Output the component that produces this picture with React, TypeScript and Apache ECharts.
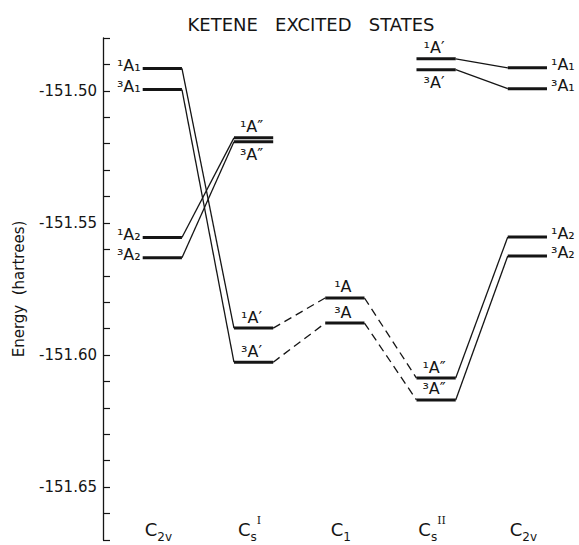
import React, { useEffect, useRef } from 'react';
import * as echarts from 'echarts';

// Column (point group) labels along the bottom, as rich text
const columnLabels = [
  '{c|C}{sub|2v}',
  '{c|C}{subz|s}{sup|I}',
  '{c|C}{sub|1}',
  '{c|C}{subz|s}{sup|II}',
  '{c|C}{sub|2v}',
];
const columnValues = [0, 1, 2, 3, 4];

// Energy levels
const levelColumn = [0, 0, 0, 0, 1, 1, 1, 1, 2, 2, 3, 3, 3, 3, 4, 4, 4, 4];
const levelEnergy = [
  -151.4915, -151.4995, -151.5555, -151.5632,
  -151.5178, -151.5193, -151.5898, -151.6027,
  -151.5784, -151.5879,
  -151.4879, -151.4920, -151.6087, -151.6170,
  -151.4913, -151.4992, -151.5553, -151.5625,
];
const levelLabel = [
  '¹A₁', '³A₁', '¹A₂', '³A₂',
  '¹A″', '³A″', '¹A′', '³A′',
  '¹A', '³A',
  '¹A′', '³A′', '¹A″', '³A″',
  '¹A₁', '³A₁', '¹A₂', '³A₂',
];
const levelLabelSide = [
  'left', 'left', 'left', 'left',
  'above', 'below', 'above', 'above',
  'above', 'above',
  'above', 'below', 'above', 'above',
  'right', 'right', 'right', 'right',
];

// Correlation lines between levels (indices into the level arrays)
const linkFrom = [0, 1, 2, 3, 6, 7, 8, 9, 12, 13, 10, 11];
const linkTo = [6, 7, 4, 5, 8, 9, 12, 13, 16, 17, 14, 15];
const linkDashed = [0, 0, 0, 0, 1, 1, 1, 1, 0, 0, 0, 0];

const yTickLabels = [-151.5, -151.55, -151.6, -151.65];

const HALF = 0.215;
const INK = '#151515';
const FONT = '"DejaVu Sans", sans-serif';

export default function App() {
  const ref = useRef<HTMLDivElement>(null);
  useEffect(() => {
    if (!ref.current) return;
    const chart = echarts.init(ref.current, null, { renderer: 'svg' });

    const levelData = levelColumn.map((c, i) => [c, levelEnergy[i]]);
    const linkData = linkFrom.map((f, k) => [
      levelColumn[f], levelEnergy[f], levelColumn[linkTo[k]], levelEnergy[linkTo[k]], linkDashed[k],
    ]);

    chart.setOption({
      animation: false,
      backgroundColor: '#fff',
      grid: { left: 103, right: 6, top: 38, bottom: 5, containLabel: false },
      graphic: [
        {
          type: 'text',
          x: 311,
          y: 24,
          style: {
            text: 'KETENE   EXCITED   STATES',
            fill: INK,
            font: '18px ' + FONT,
            align: 'center',
            verticalAlign: 'middle',
          },
        },
      ],
      xAxis: {
        type: 'value',
        min: -0.65,
        max: 4.5,
        offset: -33,
        axisLine: { show: false, onZero: false },
        axisTick: { show: false },
        splitLine: { show: false },
        axisLabel: {
          customValues: columnValues,
          margin: 8,
          padding: [0, 8, 0, 0],
          formatter: (v: number) => columnLabels[Math.round(v)] ?? '',
          rich: {
            c: { fontSize: 18, lineHeight: 28, fontFamily: FONT, color: INK },
            sub: { fontSize: 12, lineHeight: 12, verticalAlign: 'bottom', fontFamily: FONT, color: INK },
            subz: { fontSize: 12, lineHeight: 12, verticalAlign: 'bottom', fontFamily: FONT, color: INK },
            sup: { fontSize: 11, lineHeight: 11, verticalAlign: 'top', fontFamily: '"DejaVu Serif", serif', color: INK },
          },
        },
      },
      yAxis: {
        type: 'value',
        min: -151.67,
        max: -151.48,
        interval: 0.01,
        name: 'Energy  (hartrees)',
        nameLocation: 'middle',
        nameRotate: 90,
        nameGap: 77,
        nameTextStyle: { fontSize: 15, fontFamily: FONT, color: INK },
        axisLine: { show: true, onZero: false, lineStyle: { color: INK, width: 1.3 } },
        axisTick: { show: true, inside: true, length: 7, lineStyle: { color: INK, width: 1.2 } },
        splitLine: { show: false },
        axisLabel: {
          margin: 6,
          fontSize: 15,
          fontFamily: FONT,
          color: INK,
          formatter: (v: number) => {
            const hit = yTickLabels.find((t) => Math.abs(t - v) < 1e-6);
            return hit !== undefined ? hit.toFixed(2) : '';
          },
        },
      },
      series: [
        {
          type: 'custom',
          name: 'links',
          coordinateSystem: 'cartesian2d',
          encode: { x: [0, 2], y: [1, 3] },
          data: linkData,
          silent: true,
          clip: false,
          renderItem: (params: any, api: any) => {
            const p1 = api.coord([api.value(0) + HALF, api.value(1)]);
            const p2 = api.coord([api.value(2) - HALF, api.value(3)]);
            const dashed = api.value(4) === 1;
            return {
              type: 'line',
              shape: { x1: p1[0], y1: p1[1], x2: p2[0], y2: p2[1] },
              style: {
                stroke: INK,
                lineWidth: 1.3,
                lineDash: dashed ? [8, 5] : null,
                fill: null,
              },
            };
          },
        },
        {
          type: 'custom',
          name: 'levels',
          coordinateSystem: 'cartesian2d',
          encode: { x: 0, y: 1 },
          data: levelData,
          silent: true,
          clip: false,
          renderItem: (params: any, api: any) => {
            const i = params.dataIndex;
            const c = api.value(0);
            const e = api.value(1);
            const a = api.coord([c - HALF, e]);
            const b = api.coord([c + HALF, e]);
            const side = levelLabelSide[i];
            let tx = (a[0] + b[0]) / 2 - 2;
            let ty = a[1];
            let align = 'center';
            if (side === 'left') { tx = a[0] - 2; ty = a[1] - 3; align = 'right'; }
            else if (side === 'right') { tx = b[0] + 4; ty = a[1] - 3; align = 'left'; }
            else if (side === 'above') { ty = a[1] - 11; }
            else { ty = a[1] + 13; }
            return {
              type: 'group',
              children: [
                {
                  type: 'line',
                  shape: { x1: a[0], y1: a[1], x2: b[0], y2: b[1] },
                  style: { stroke: INK, lineWidth: 3 },
                },
                {
                  type: 'text',
                  x: tx,
                  y: ty,
                  style: {
                    text: levelLabel[i],
                    fill: INK,
                    font: '16px ' + FONT,
                    align,
                    verticalAlign: 'middle',
                  },
                },
              ],
            };
          },
        },
      ],
    });
    return () => chart.dispose();
  }, []);
  return (
    <div
      ref={ref}
      style={{ position: 'fixed', left: 0, top: 0, width: 579, height: 545, background: '#fff' }}
    />
  );
}
